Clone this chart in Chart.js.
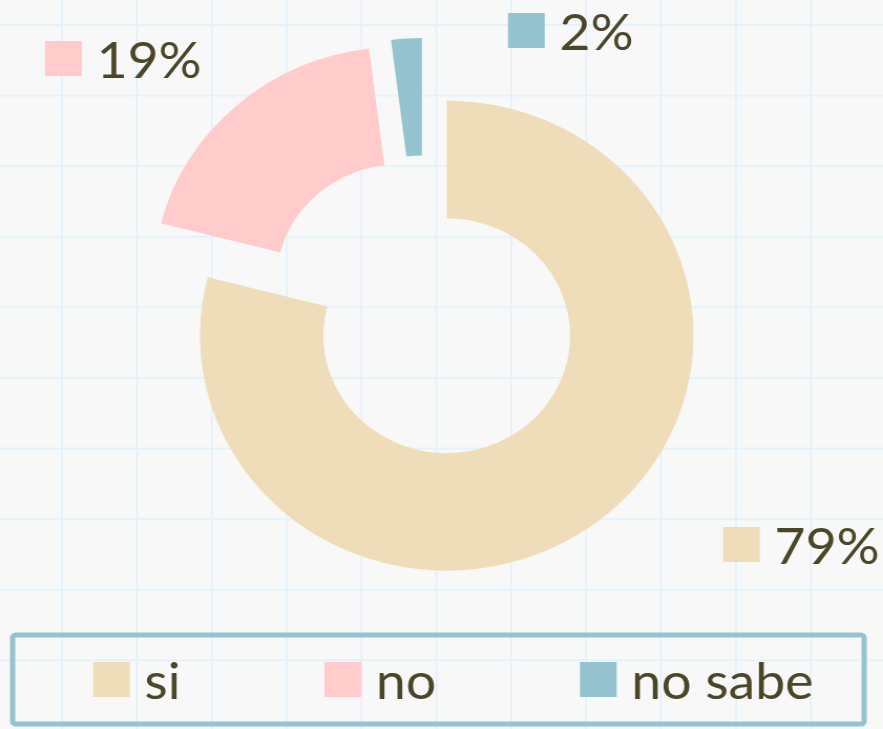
<!DOCTYPE html>
<html lang="es">
<head>
    <meta charset="UTF-8">
    <title>Encuesta</title>
    <style>
        html, body { margin: 0; padding: 0; }
        body {
            width: 883px;
            height: 729px;
            overflow: hidden;
            background-color: #f8f8f8;
            background-image:
                linear-gradient(to right, #e4f2fc 2px, transparent 2px),
                linear-gradient(to bottom, #e4f2fc 2px, transparent 2px);
            background-size: 74.9px 70.6px;
            background-position: 61px 24px;
        }
        /* la imagen original está algo estirada a lo ancho */
        #grafico { display: block; transform-origin: 0 0; transform: scaleX(1.05); }
    </style>
</head>
<body>
    <canvas id="grafico" width="841" height="729"></canvas>

    <script src="https://cdn.jsdelivr.net/npm/chart.js"></script>
    <script>
        // datos
        const categorias = ['si', 'no', 'no sabe'];
        const porcentajes = [79, 19, 2];

        // estilo
        const colores = ['#efdcb9', '#ffcbcb', '#95c4d0'];
        const colorTexto = '#4a4627';
        const fuente = '51px Lato';

        // separa cada porción del centro, sin agrandarla
        const separarPorciones = {
            id: 'separarPorciones',
            afterDatasetsUpdate(chart, args, opts) {
                chart.getDatasetMeta(0).data.forEach(arc => {
                    const medio = (arc.startAngle + arc.endAngle) / 2;
                    arc.x += Math.cos(medio) * opts.distancia;
                    arc.y += Math.sin(medio) * opts.distancia;
                });
            }
        };

        // cuadrito + porcentaje junto a cada porción
        const etiquetas = {
            id: 'etiquetas',
            afterDatasetsDraw(chart, args, opts) {
                const ctx = chart.ctx;
                const valores = chart.data.datasets[0].data;
                const total = valores.reduce((a, b) => a + b, 0);
                ctx.save();
                ctx.font = fuente;
                ctx.textBaseline = 'alphabetic';
                valores.forEach((v, i) => {
                    const [x, y] = opts.lugares[i];
                    ctx.fillStyle = colores[i];
                    ctx.fillRect(x, y, opts.caja, opts.caja);
                    ctx.fillStyle = colorTexto;
                    ctx.fillText(Math.round(v / total * 100) + '%', x + opts.caja + 14, y + opts.caja + 2);
                });
                ctx.restore();
            }
        };

        // leyenda dentro de un recuadro
        const leyenda = {
            id: 'leyenda',
            afterDraw(chart, args, opts) {
                const ctx = chart.ctx;
                ctx.save();
                ctx.strokeStyle = opts.borde;
                ctx.lineWidth = 5;
                ctx.beginPath();
                ctx.roundRect(12, chart.height - 94, chart.width - 30, 89, 3);
                ctx.stroke();

                ctx.font = fuente;
                ctx.textBaseline = 'alphabetic';
                let x = opts.inicio;
                const y = chart.height - 67;
                chart.data.labels.forEach((txt, i) => {
                    ctx.fillStyle = colores[i];
                    ctx.fillRect(x, y, 35, 35);
                    ctx.fillStyle = colorTexto;
                    ctx.fillText(txt, x + 49, y + 37);
                    x += 49 + ctx.measureText(txt).width + opts.separacion;
                });
                ctx.restore();
            }
        };

        new Chart(document.getElementById('grafico'), {
            type: 'doughnut',
            data: {
                labels: categorias,
                datasets: [{
                    data: porcentajes,
                    backgroundColor: colores,
                    borderWidth: 0
                }]
            },
            options: {
                responsive: false,
                animation: false,
                radius: 235,
                cutout: '50%',
                layout: { padding: { left: 0, right: 33, top: 0, bottom: 113 } },
                plugins: {
                    legend: { display: false },
                    tooltip: { enabled: false },
                    separarPorciones: { distancia: 35 },
                    etiquetas: { caja: 35, lugares: [[688.6, 527], [42.9, 41], [483.8, 13]] },
                    leyenda: { borde: '#95c4d0', inicio: 88.6, separacion: 137 }
                }
            },
            plugins: [separarPorciones, etiquetas, leyenda]
        });
    </script>
</body>
</html>
